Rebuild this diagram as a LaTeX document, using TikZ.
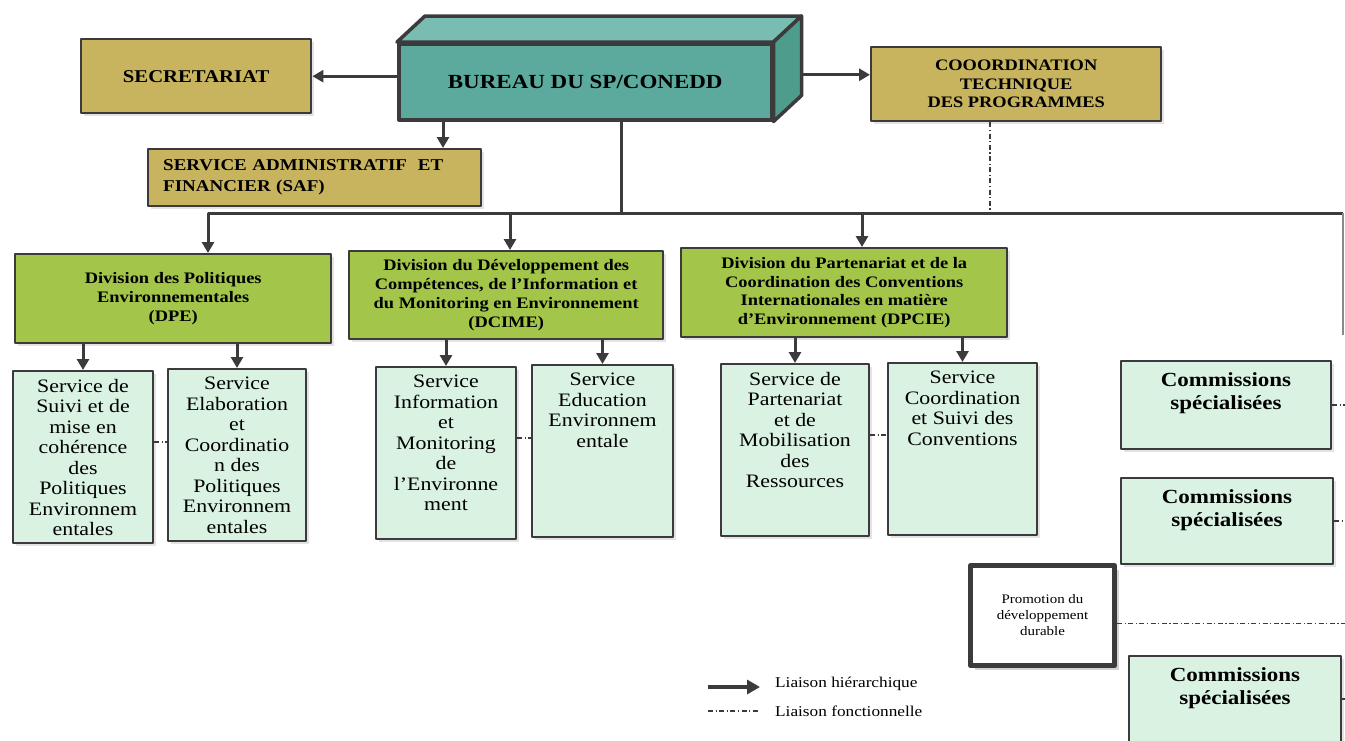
\documentclass[tikz,border=0pt]{standalone}
\usepackage{fontspec}
\setmainfont{Liberation Serif}[FakeStretch=1.15]
\usetikzlibrary{arrows.meta,calc,shadows,positioning}

\definecolor{edgecol}{RGB}{60,58,60}
\definecolor{olive}{RGB}{200,180,95}
\definecolor{tealfront}{RGB}{91,170,157}
\definecolor{tealtop}{RGB}{121,189,178}
\definecolor{tealside}{RGB}{78,156,140}
\definecolor{divgreen}{RGB}{163,198,74}
\definecolor{mint}{RGB}{217,242,226}

% service and commission texts hang from the top of their box
\newcommand{\svctext}[1]{\parbox[t][172pt][t]{136pt}{\centering\vspace*{8pt}#1}}
\newcommand{\comtext}[2]{\parbox[t][#1pt][t]{200pt}{\centering\vspace*{12pt}#2}}

\begin{document}
\begin{tikzpicture}[
  x=1pt,y=-1pt,
  line join=round,
  box/.style={draw=edgecol,line width=2.4pt,inner sep=0pt,anchor=north west,
    drop shadow={shadow xshift=2.5pt,shadow yshift=-2.5pt,opacity=0.22}},
  topbox/.style={box,fill=olive,align=center},
  divbox/.style={box,fill=divgreen,align=center,font=\bfseries\fontsize{16}{18.8}\selectfont},
  svcbox/.style={box,line width=2pt,fill=mint,minimum height=172pt,font=\fontsize{19}{20.5}\selectfont},
  combox/.style={box,line width=2pt,fill=mint,font=\bfseries\fontsize{20}{23}\selectfont},
  legtext/.style={anchor=west,inner sep=0pt,font=\fontsize{15}{18}\selectfont},
  hier/.style={draw=edgecol,line width=3pt,-{Triangle[length=11pt,width=12pt]}},
  link/.style={draw=edgecol,line width=3pt},
  func/.style={draw=edgecol,line width=1.3pt,dash pattern=on 5pt off 2.5pt on 1.2pt off 2.5pt}
]
\useasboundingbox[fill=white] (0,0) rectangle (1345,740);

% Bureau (3D block)
\node[draw=edgecol,line width=3.5pt,fill=tealfront,anchor=north west,inner sep=0pt,
  minimum width=373pt,minimum height=76pt,
  font=\bfseries\fontsize{20}{24}\selectfont] (bureau) at (397,42) {BUREAU DU SP/CONEDD};
\draw[draw=edgecol,line width=3.5pt,fill=tealtop]
  (bureau.north west) -- ++(28,-26) -- ($(bureau.north east)+(28,-26)$) -- (bureau.north east) -- cycle;
\draw[draw=edgecol,line width=3.5pt,fill=tealside]
  (bureau.north east) -- ++(28,-26) -- ($(bureau.south east)+(28,-26)$) -- (bureau.south east) -- cycle;
\coordinate (bside) at ($(bureau.east)+(28,-7)$);
\coordinate (bsaf) at ($(bureau.south west)+(46,0)$);

% Top level boxes
\node[topbox,minimum width=230pt,minimum height=74pt,
  font=\bfseries\fontsize{18}{21}\selectfont] (secr) at (80,38) {SECRETARIAT};
\node[topbox,minimum width=290pt,minimum height=74pt,
  font=\bfseries\fontsize{16}{18.5}\selectfont] (coord) at (870,46)
  {COOORDINATION\\TECHNIQUE\\DES PROGRAMMES};
\node[box,fill=olive,align=left,text width=303pt,inner xsep=15pt,minimum height=57pt,
  font=\bfseries\fontsize{16.5}{21}\selectfont] (saf) at (147,148)
  {SERVICE ADMINISTRATIF\ \ ET\\FINANCIER (SAF)};

\draw[hier] (bureau.west |- secr.east) -- (secr.east);
\draw[hier] (bside) -- (bside -| coord.west);
\draw[hier] (bsaf) -- (bsaf |- saf.north);

% Divisions
\node[divbox,minimum width=316pt,minimum height=89pt] (dpe) at (14,253)
  {Division des Politiques\\Environnementales\\(DPE)};
\node[divbox,minimum width=314pt,minimum height=88pt] (dcime) at (348,250)
  {Division du Développement des\\Compétences, de l’Information et\\du Monitoring en Environnement\\(DCIME)};
\node[divbox,minimum width=326pt,minimum height=89pt] (dpcie) at (680,247)
  {Division du Partenariat et de la\\Coordination des Conventions\\Internationales en matière\\d’Environnement (DPCIE)};

% Bus line
\coordinate (bus) at (621,213);
\coordinate (busL) at (208,213);
\coordinate (busR) at (1343,213);
\coordinate (busE) at (1343,335);
\coordinate (tapB) at (510,213);
\coordinate (tapC) at (862,213);
\coordinate (tapF) at (990,213);

\draw[link] (bureau.south -| bus) -- (bus);
\draw[hier] (busR) -- (busL) -- (busL |- dpe.north);
\draw[draw=edgecol!60,line width=2pt] (busR) -- (busE);
\foreach \t/\n in {tapB/dcime, tapC/dpcie}
  \draw[hier] (\t) -- (\t |- \n.north);
\draw[func] (coord.south -| tapF) -- (tapF);

% Services
\node[svcbox,minimum width=140pt] (s1) at (12,370)
  {\svctext{Service de\\Suivi et de\\mise en\\cohérence\\des\\Politiques\\Environnem\\entales}};
\node[svcbox,minimum width=138pt] (s2) at (167,368)
  {\svctext{Service\\Elaboration\\et\\Coordinatio\\n des\\Politiques\\Environnem\\entales}};
\node[svcbox,minimum width=140pt] (s3) at (375,366)
  {\svctext{Service\\Information\\et\\Monitoring\\de\\l’Environne\\ment}};
\node[svcbox,minimum width=141pt] (s4) at (531,364)
  {\svctext{Service\\Education\\Environnem\\entale}};
\node[svcbox,minimum width=148pt] (s5) at (720,363)
  {\svctext{Service de\\Partenariat\\et de\\Mobilisation\\des\\Ressources}};
\node[svcbox,minimum width=149pt] (s6) at (887,362)
  {\svctext{Service\\Coordination\\et Suivi des\\Conventions}};

\foreach \d/\s in {dpe/s1, dpe/s2, dcime/s3, dcime/s4, dpcie/s5, dpcie/s6}
  \draw[hier] (\s.north |- \d.south) -- (\s.north);
\foreach \a/\b in {s1/s2, s3/s4, s5/s6}
  \draw[func] ($(\a.east)+(0,-15)$) coordinate (fa) -- (fa -| \b.west);

% Commissions and promotion
\node[combox,minimum width=210pt,minimum height=88pt] (c1) at (1120,360)
  {\comtext{88}{Commissions\\spécialisées}};
\node[combox,minimum width=212pt,minimum height=86pt] (c2) at (1120,477)
  {\comtext{86}{Commissions\\spécialisées}};
\node[combox,minimum width=212pt,minimum height=86pt] (c3) at (1128,655)
  {\comtext{86}{Commissions\\spécialisées}};
\node[box,line width=5pt,fill=white,minimum width=144pt,minimum height=100pt,align=center,
  drop shadow={shadow xshift=4pt,shadow yshift=-4pt,opacity=0.35},
  font=\fontsize{13}{16}\selectfont] (promo) at (968,563)
  {Promotion du\\développement\\durable};

\coordinate (edge) at (1345,0);
\foreach \c in {c1, c2, c3}
  \draw[func] (\c.east) -- (\c.east -| edge);
\draw[func] ($(promo.east)+(0,8)$) coordinate (pe) -- (pe -| edge);

% Legend
\node[legtext] (lhier) at (775,684) {Liaison hiérarchique};
\node[legtext] (lfunc) at (775,711) {Liaison fonctionnelle};
\draw[draw=edgecol,line width=4.5pt,-{Triangle[length=13pt,width=14pt]}]
  ($(lhier.west)+(-67,3)$) -- ($(lhier.west)+(-15,3)$);
\draw[func,line width=2.5pt] ($(lfunc.west)+(-67,0)$) -- ($(lfunc.west)+(-15,0)$);

\end{tikzpicture}
\end{document}
